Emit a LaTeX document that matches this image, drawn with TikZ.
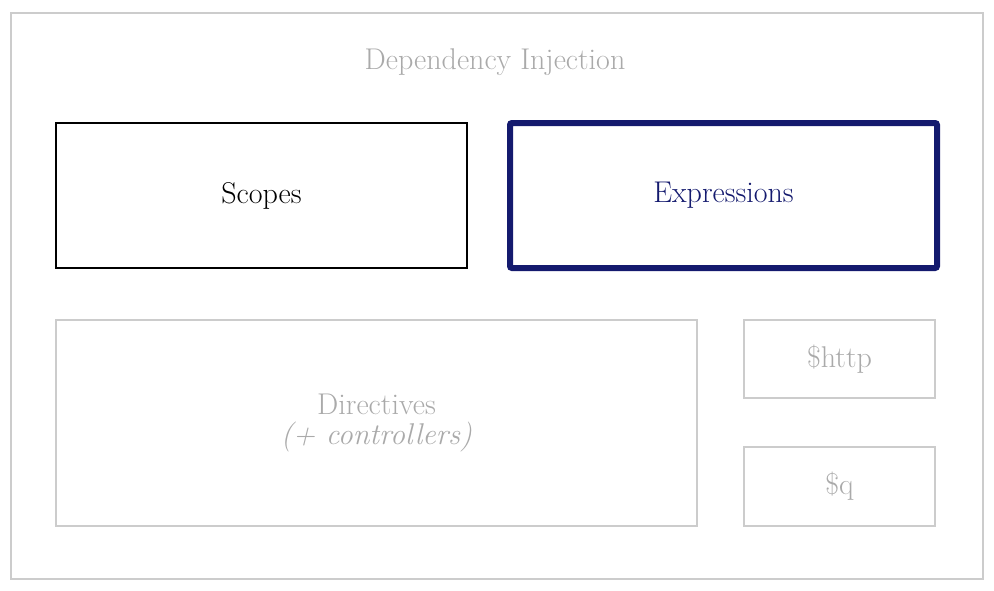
\documentclass[tikz,border=0pt]{standalone}
\usepackage{tikz}
\usetikzlibrary{positioning}
\definecolor{boxgray}{HTML}{CCCCCC}
\definecolor{textgray}{HTML}{AAAAAA}
\definecolor{navy}{HTML}{141A6E}

\begin{document}
\begin{tikzpicture}[
		x = 1pt,
		y = -1pt,
		every node/.style = {
			font = \fontsize{30}{34}\selectfont,
		},
		module/.style = {
			draw = boxgray,
			line width = 2pt,
			rectangle,
			text = textgray,
			align = center,
		},
		focus/.style = {
			draw,
			line width = 2pt,
			rectangle,
		},
		current/.style = {
			draw = navy,
			line width = 6pt,
			rounded corners = 2pt,
			rectangle,
			text = navy,
		}
	]
	\useasboundingbox (0, 0) rectangle (994, 590);
	\node [module, minimum width = 972, minimum height = 566, anchor = north west] (injector) at (10, 12) {};
	\node [text = textgray] (title) at (495, 62) {Dependency Injection};

	\node [focus, minimum width = 411, minimum height = 145] (scopes) at (261.5, 195.5) {Scopes};
	\node [current, minimum width = 427, minimum height = 145] (expressions) at (723.5, 195.5) {Expressions};

	\node [module, minimum width = 641, minimum height = 206] (directives) at (376.5, 423) {Directives\\[-4pt]\textit{(+ controllers)}};
	\node [module, minimum width = 191, minimum height = 78] (http) at (839.5, 359) {\$http};
	\node [module, minimum width = 191, minimum height = 79] (promises) at (839.5, 486.5) {\$q};
\end{tikzpicture}
\end{document}
